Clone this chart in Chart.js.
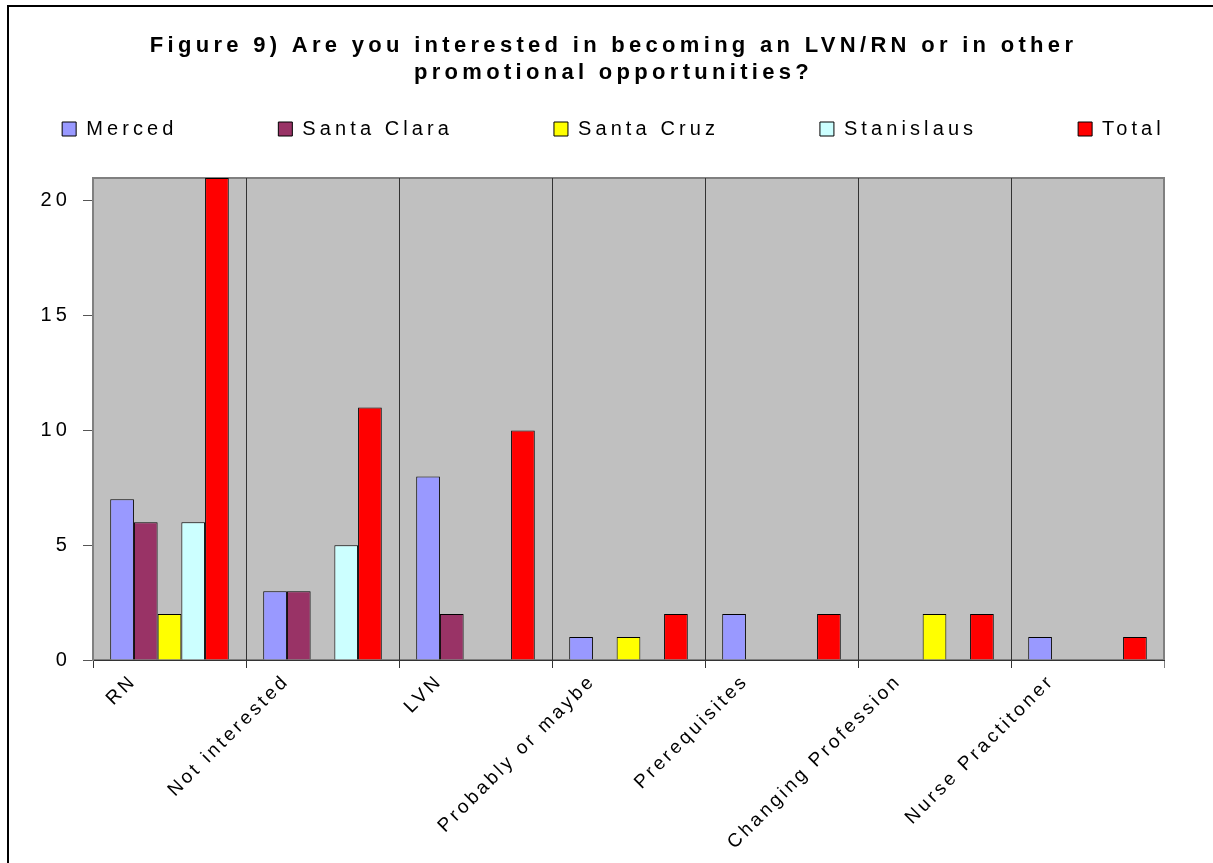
<!DOCTYPE html>
<html>
<head>
<meta charset="utf-8">
<title>Figure 9</title>
<script src="https://cdn.jsdelivr.net/npm/chart.js@4.4.1/dist/chart.umd.min.js"></script>
<style>
  body { margin: 0; background: #fff; overflow: hidden; }
  #frame { position: absolute; left: 7px; top: 5px; width: 1400px; height: 1000px;
           border-top: 2px solid #000; border-left: 2px solid #000; }
  #wrap { position: absolute; left: 0; top: 0; width: 1213px; height: 863px; }
</style>
</head>
<body>
<div id="frame"></div>
<div id="wrap"><canvas id="chart"></canvas></div>
<script>
const categories = ['RN', 'Not interested', 'LVN', 'Probably or maybe', 'Prerequisites', 'Changing Profession', 'Nurse Practitoner'];
const merced     = [7, 3, 8, 1, 2, 0, 1];
const santaClara = [6, 3, 2, 0, 0, 0, 0];
const santaCruz  = [2, 0, 0, 1, 0, 2, 0];
const stanislaus = [6, 5, 0, 0, 0, 0, 0];
const total      = [21, 11, 10, 2, 2, 2, 1];
const yMax = 21;
const yStep = 5;

Chart.defaults.font.family = "'Liberation Sans', Arial, sans-serif";
Chart.defaults.color = '#000';

const canvas = document.getElementById('chart');
const ctx = canvas.getContext('2d');

// the original chart has its text spaced out, so widen every string a little
const fillText = ctx.fillText.bind(ctx);
const measureText = ctx.measureText.bind(ctx);
function spacing() {
    if (ctx.font.indexOf('bold') >= 0) return '4.3px';
    if (ctx.font.indexOf('19px') >= 0) return '3.2px';
    return '4.1px';
}
ctx.fillText = function (t, x, y, w) {
    ctx.letterSpacing = spacing();
    return w === undefined ? fillText(t, x, y) : fillText(t, x, y, w);
};
ctx.measureText = function (t) {
    ctx.letterSpacing = spacing();
    return measureText(t);
};

// grey plot area with a thin border
const plotBg = {
    id: 'plotBg',
    beforeDraw(chart) {
        const a = chart.chartArea;
        const c = chart.ctx;
        c.save();
        c.fillStyle = '#C0C0C0';
        c.fillRect(a.left, a.top, a.width, a.height);
        c.strokeStyle = '#808080';
        c.lineWidth = 2;
        c.strokeRect(a.left, a.top, a.width, a.height);
        c.restore();
    }
};

// extra room between legend and plot
const legendGap = {
    id: 'legendGap',
    beforeInit(chart) {
        const fit = chart.legend.fit;
        chart.legend.fit = function () {
            fit.call(this);
            this.height += 29;
        };
    }
};

new Chart(ctx, {
    type: 'bar',
    data: {
        labels: categories,
        datasets: [
            { label: 'Merced', data: merced, backgroundColor: '#9999FF' },
            { label: 'Santa Clara', data: santaClara, backgroundColor: '#993366' },
            { label: 'Santa Cruz', data: santaCruz, backgroundColor: '#FFFF00' },
            { label: 'Stanislaus', data: stanislaus, backgroundColor: '#CCFFFF' },
            { label: 'Total', data: total, backgroundColor: '#FF0000' }
        ]
    },
    options: {
        responsive: true,
        maintainAspectRatio: false,
        animation: false,
        devicePixelRatio: 1,
        layout: { padding: { left: 14, right: 0, top: 0, bottom: 0 } },
        datasets: {
            bar: {
                borderColor: '#000',
                borderWidth: 1,
                barPercentage: 1,
                categoryPercentage: 0.775
            }
        },
        plugins: {
            title: {
                display: true,
                text: ['Figure 9) Are you interested in becoming an LVN/RN or in other', 'promotional opportunities?'],
                font: { size: 22, weight: 'bold', lineHeight: '27px' },
                color: '#000',
                padding: { top: 32, bottom: 19 }
            },
            legend: {
                display: true,
                position: 'top',
                labels: {
                    boxWidth: 14,
                    boxHeight: 14,
                    padding: 14,
                    font: { size: 20 },
                    color: '#000',
                    generateLabels(chart) {
                        const items = Chart.defaults.plugins.legend.labels.generateLabels(chart);
                        items.forEach((item, i) => {
                            if (i < items.length - 1) item.text += '         ';
                        });
                        return items;
                    }
                }
            },
            tooltip: { enabled: false }
        },
        scales: {
            x: {
                grid: {
                    offset: true,
                    drawOnChartArea: true,
                    tickLength: 8,
                    color: c => c.index === undefined ? '#808080' : '#333'
                },
                border: { display: true, color: '#333', width: 1 },
                ticks: {
                    autoSkip: false,
                    minRotation: 45,
                    maxRotation: 45,
                    padding: 2,
                    labelOffset: -36,
                    font: { size: 19 },
                    color: '#000'
                },
                afterFit(scale) { scale.height = 203; }
            },
            y: {
                min: 0,
                max: yMax,
                ticks: { stepSize: yStep, includeBounds: false, padding: 12, font: { size: 20 }, color: '#000' },
                grid: { drawOnChartArea: false, tickLength: 10, color: '#555' },
                border: { color: '#808080', width: 2 },
                afterFit(scale) { scale.width = 79; }
            },
            yRight: {
                position: 'right',
                display: true,
                grid: { display: false },
                border: { display: false },
                ticks: { display: false },
                afterFit(scale) { scale.width = 49; }
            }
        }
    },
    plugins: [plotBg, legendGap]
});
</script>
</body>
</html>
